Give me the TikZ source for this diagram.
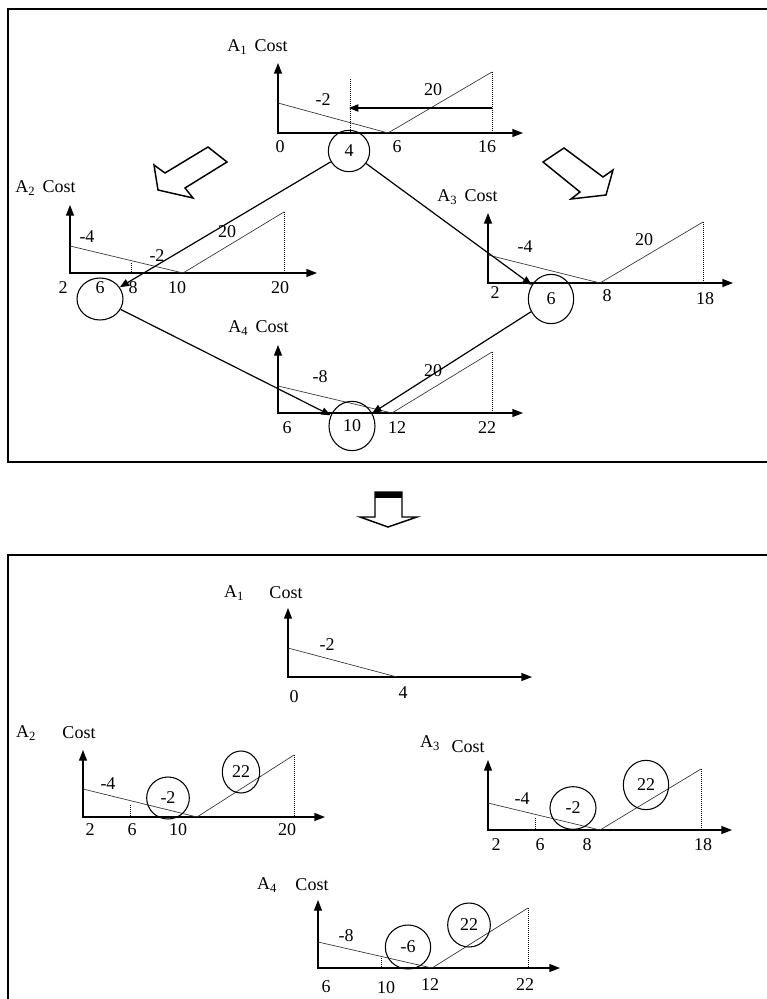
\documentclass[tikz,border=0pt]{standalone}
\usepackage{fontspec}
\setmainfont{Liberation Serif}
\usetikzlibrary{arrows.meta,shapes.geometric}

\begin{document}
\begin{tikzpicture}[x=0.75pt,y=-0.75pt,
  ax/.style={{Triangle[length=8pt,width=6pt]}-{Triangle[length=8pt,width=6pt]},line width=1pt},
  cst/.style={line width=0.5pt,black!80},
  guide/.style={densely dotted,line width=0.5pt},
  num/.style={font=\fontsize{13.5}{15}\selectfont,inner sep=0pt},
  ring/.style={draw,ellipse,line width=0.8pt,inner sep=0pt,font=\fontsize{13.5}{15}\selectfont},
  rx/.style={-{Triangle[length=7pt,width=5.5pt]},line width=0.9pt},
  frm/.style={line width=1.5pt},
  blk/.style={line width=1.1pt,line join=miter}]
  \useasboundingbox (0,0) rectangle (767,999);
  \draw[frm] (767,9) -- (8,9) -- (8,462) -- (767,462);
  \draw[frm] (767,555) -- (8,555) -- (8,999);

  % upper network
  \node[num,anchor=west] (hA1) at (227,47) {A\textsubscript{1}\, Cost};
  \draw[ax] (278,63) -- (278,133) -- (523,133);
  \draw[cst] (278,103) -- (388,133) -- (492,72);
  \draw[guide] (492,72) -- (492,133) (350,79) -- (350,133);
  \draw[rx] (492,108) -- (349,108);
  \node[num] (sA1) at (323,100) {-2};
  \node[num] (rA1) at (433,90) {20};
  \foreach \x/\l [count=\i] in {280/0,397/6,487/16} \node[num] (pa\i) at (\x,147) {\l};
  \node[ring,minimum width=31pt,minimum height=31pt] (c4) at (349,151) {4};

  \node[num,anchor=west] (hA2) at (15,188) {A\textsubscript{2}\, Cost};
  \draw[ax] (70,205) -- (70,273) -- (317,273);
  \draw[cst] (70,246) -- (183,273) -- (284,212);
  \draw[guide] (284,212) -- (284,273) (131,263) -- (131,273);
  \node[num] (sA2) at (87,237) {-4};
  \node[num] (mA2) at (157,256) {-2};
  \node[num] (rA2) at (227,232) {20};
  \foreach \x/\l [count=\i] in {63/2,100/6,133/8,177/10,280/20} \node[num] (pb\i) at (\x,288) {\l};
  \node[ring,minimum width=34.5pt,minimum height=31.5pt] (c6b) at (100,299) {};

  \node[num,anchor=west] (hA3) at (437,197) {A\textsubscript{3}\, Cost};
  \draw[ax] (488,213) -- (488,283) -- (733,283);
  \draw[cst] (488,255) -- (600,283) -- (703,222);
  \draw[guide] (703,222) -- (703,283);
  \node[num] (sA3) at (525,247) {-4};
  \node[num] (rA3) at (644,240) {20};
  \foreach \x/\l [count=\i] in {495/2,607/8,705/18} \node[num] (pc\i) at (\x,\i*3+290) {\l};
  \node[ring,minimum width=34pt,minimum height=37pt] (c6c) at (551,299) {6};

  \node[num,anchor=west] (hA4) at (228,328) {A\textsubscript{4}\, Cost};
  \draw[ax] (278,345) -- (278,413) -- (523,413);
  \draw[cst] (278,386) -- (392,413) -- (492,352);
  \draw[guide] (492,352) -- (492,413);
  \node[num] (sA4) at (320,377) {-8};
  \node[num] (rA4) at (433,371) {20};
  \foreach \x/\l [count=\i] in {287/6,397/12,487/22} \node[num] (pd\i) at (\x,428) {\l};
  \node[ring,minimum width=34.5pt,minimum height=37pt] (c10) at (352,426) {10};

  \draw[rx] (c4) -- (c6b);
  \draw[rx] (c4) -- (c6c);
  \draw[rx] (c6b) -- (c10);
  \draw[rx] (c6c) -- (c10);

  \draw[blk] (208,147) -- (227,162) -- (185,188) -- (193,198) -- (158,190) -- (154,165) -- (165,173) -- cycle;
  \draw[blk] (564,148) -- (603,177) -- (613,170) -- (606,195) -- (571,199) -- (580,192) -- (543,162) -- cycle;
  \draw[blk] (375,492) -- (402,492) -- (402,517) -- (417,517) -- (388,527) -- (360,517) -- (375,517) -- cycle;
  \fill (375,492) rectangle (402,498);

  % lower result
  \node[num] (hB1) at (234,593) {A\textsubscript{1}};
  \node[num] (kB1) at (286,593) {Cost};
  \draw[ax] (288,608) -- (288,677) -- (532,677);
  \draw[cst] (288,648) -- (397,677);
  \node[num] (sB1) at (327,645) {-2};
  \node[num] (qa1) at (294,697) {0};
  \node[num] (qa2) at (403,693) {4};

  \node[num] (hB2) at (26,733) {A\textsubscript{2}};
  \node[num] (kB2) at (79,733) {Cost};
  \draw[ax] (83,750) -- (83,817) -- (325,817);
  \draw[cst] (83,789) -- (197,817) -- (294,755);
  \draw[guide] (130,805) -- (130,817) (294,755) -- (294,817);
  \node[num] (sB2) at (108,784) {-4};
  \foreach \x/\l [count=\i] in {90/2,132/6,178/10,287/20} \node[num] (qb\i) at (\x,830) {\l};
  \node[ring,minimum width=32pt,minimum height=31.5pt] (e2b) at (168,798) {-2};
  \node[ring,minimum width=28pt,minimum height=31.5pt] (f2b) at (241,772) {22};

  \node[num] (hB3) at (430,743) {A\textsubscript{3}};
  \node[num] (kB3) at (468,747) {Cost};
  \draw[ax] (488,760) -- (488,830) -- (732,830);
  \draw[cst] (488,803) -- (600,830) -- (701,769);
  \draw[guide] (535,818) -- (535,830) (701,769) -- (701,830);
  \node[num] (sB3) at (522,799) {-4};
  \foreach \x/\l [count=\i] in {496/2,540/6,587/8,703/18} \node[num] (qc\i) at (\x,845) {\l};
  \node[ring,minimum width=34.5pt,minimum height=32pt] (e2c) at (573,808) {-2};
  \node[ring,minimum width=34pt,minimum height=37pt] (f2c) at (646,785) {22};

  \node[num] (hB4) at (267,885) {A\textsubscript{4}};
  \node[num] (kB4) at (312,885) {Cost};
  \draw[ax] (318,900) -- (318,968) -- (560,968);
  \draw[cst] (318,942) -- (432,968) -- (528,908);
  \draw[guide] (381,958) -- (381,968) (528,908) -- (528,968);
  \node[num] (sB4) at (346,936) {-8};
  \foreach \x/\l/\y [count=\i] in {326/6/987,386/10/988,430/12/985,525/22/985} \node[num] (qd\i) at (\x,\y) {\l};
  \node[ring,minimum width=34pt,minimum height=33pt] (e6d) at (408,947) {-6};
  \node[ring,minimum width=32pt,minimum height=33pt] (f2d) at (469,925) {22};
\end{tikzpicture}
\end{document}
